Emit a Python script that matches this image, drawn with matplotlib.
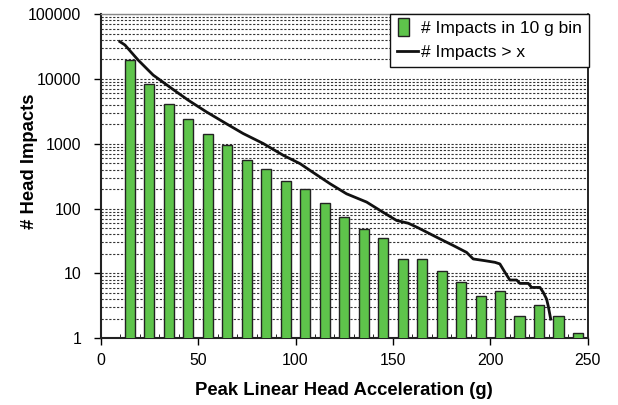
import numpy as np
import matplotlib
matplotlib.use('Agg')
import matplotlib.pyplot as plt
from matplotlib.ticker import LogLocator, MultipleLocator, FixedLocator
from matplotlib.legend_handler import HandlerPatch
from matplotlib.patches import Rectangle

plt.rcParams['font.family'] = ['Liberation Sans', 'DejaVu Sans']

# bin centres (g) and counts per 10 g bin
bin_centres = [15, 25, 35, 45, 55, 65, 75, 85, 95, 105, 115, 125,
               135, 145, 155, 165, 175, 185, 195, 205, 215, 225, 235, 245]
bin_counts = [19500, 8300, 4050, 2430, 1420, 960, 555, 403, 263, 198, 122, 75,
              48.6, 35.3, 16.5, 16.5, 10.8, 7.3, 4.4, 5.3, 2.2, 3.3, 2.2, 1.2]

# cumulative curve
cum_x = [9.8, 12.4, 19.2, 26.9, 36.4, 44.9, 54.3, 64.6, 73.1, 83.4, 93.7,
         102.3, 107.4, 117.7, 126.2, 136.5, 143.3, 151.9, 157.9, 163.0, 170.7,
         174.1, 181.0, 187.8, 191.2, 197.2, 202.4, 204.9, 207.5, 210.0, 213.5,
         215.2, 219.5, 221.2, 225.5, 227.2, 228.9, 229.7, 231.0]
cum_y = [37700, 33500, 19600, 11500, 7150, 4710, 3100, 2030, 1440, 1010, 664,
         494, 389, 242, 169, 126, 94, 65.5, 59.4, 50.4, 38.4,
         34.1, 26.9, 21.1, 16.7, 15.7, 14.8, 14.0, 10.4, 7.9, 7.9,
         7.0, 7.0, 6.07, 6.07, 5.08, 4.0, 3.16, 1.97]


def narrow_bar(legend, orig_handle, xdescent, ydescent, width, height, fontsize):
    w = width * 0.55
    return Rectangle((-xdescent + (width - w) / 2 - 3, -ydescent - height * 0.25),
                     w, height * 1.5)


fig = plt.figure(figsize=(6.18, 4.05), dpi=100)
ax = fig.add_axes([0.163, 0.165, 0.788, 0.8])

ax.set_yscale('log')
bars = ax.bar(bin_centres, bin_counts, width=5.2, color='#5ec44b', edgecolor='#222222',
              linewidth=1.0, label='# Impacts in 10 g bin', zorder=3)
line, = ax.plot(cum_x, cum_y, color='#111111', lw=2.0, label='# Impacts > x', zorder=4)

ax.set_xlim(0, 250)
ax.set_ylim(1, 100000)
ax.xaxis.set_major_locator(MultipleLocator(50))
ax.xaxis.set_minor_locator(MultipleLocator(10))
ax.yaxis.set_major_locator(FixedLocator([1, 10, 100, 1000, 10000, 100000]))
ax.yaxis.set_minor_locator(LogLocator(base=10, subs=np.arange(2, 10)))
ax.yaxis.set_minor_formatter(plt.NullFormatter())
ax.set_yticklabels(['1', '10', '100', '1000', '10000', '100000'])

ax.yaxis.grid(True, which='both', linestyle=(0, (2, 1.5)), color='#333333',
              linewidth=0.8, zorder=0)
ax.set_axisbelow(True)

ax.tick_params(axis='both', which='major', labelsize=11.4, length=5,
               direction='out', width=1)
ax.tick_params(axis='x', which='minor', length=3, direction='in')
ax.tick_params(axis='y', which='minor', length=0)
ax.tick_params(axis='y', which='major', pad=9)
ax.tick_params(axis='x', which='major', pad=6)

for side in ['left', 'bottom']:
    ax.spines[side].set_linewidth(1.5)
    ax.spines[side].set_color('#222222')
ax.spines['right'].set_linewidth(1.2)
ax.spines['top'].set_linewidth(1.0)
ax.spines['top'].set_color('#888888')

ax.set_xlabel('Peak Linear Head Acceleration (g)', fontsize=13.3,
              fontweight='bold', labelpad=10)
ax.set_ylabel('# Head Impacts', fontsize=13.3, fontweight='bold')
ax.yaxis.set_label_coords(-0.128, 0.545)

bar_handle = bars.patches[0]
leg = ax.legend([bar_handle, line], ['# Impacts in 10 g bin', '# Impacts > x'],
                loc='upper right', bbox_to_anchor=(1.002, 1.0), fontsize=12.5,
                frameon=True, fancybox=False, edgecolor='#111111',
                handlelength=1.2, handletextpad=0.15, borderaxespad=0,
                labelspacing=0.5, borderpad=0.4,
                handler_map={bar_handle: HandlerPatch(patch_func=narrow_bar)})
leg.get_frame().set_linewidth(1.0)
leg.get_frame().set_alpha(1)

fig.savefig('out.png', dpi=100)
